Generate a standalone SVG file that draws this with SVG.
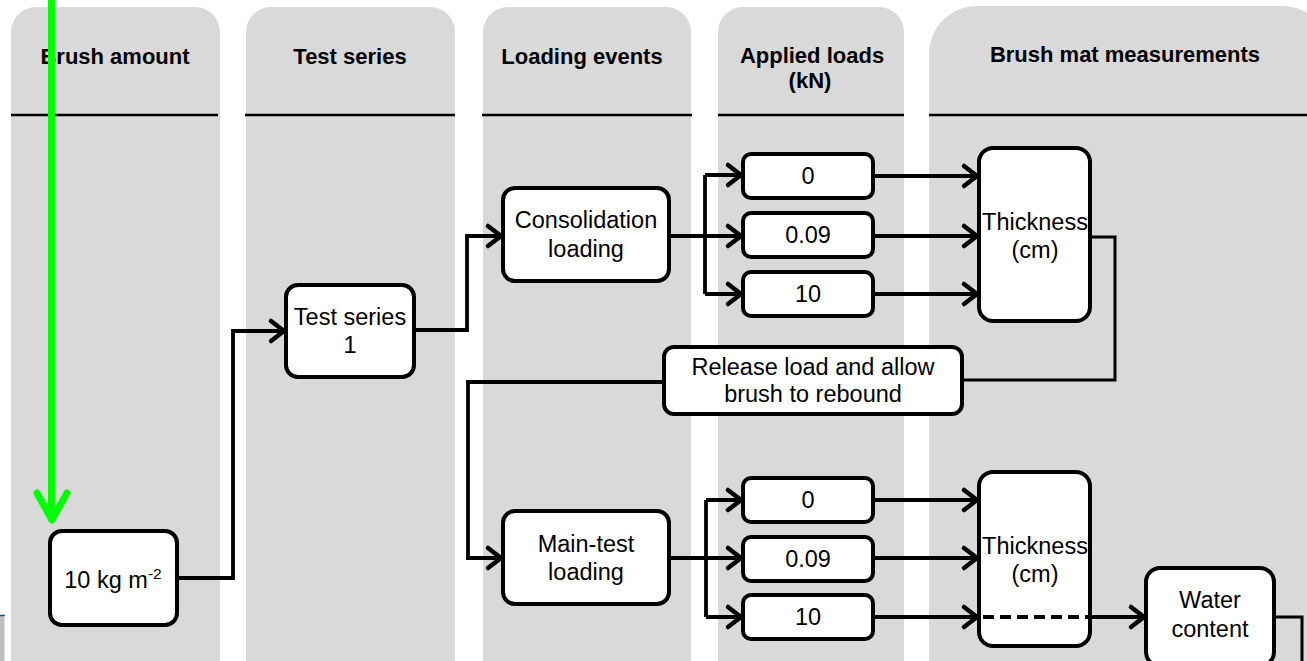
<svg xmlns="http://www.w3.org/2000/svg" width="1307" height="661" viewBox="0 0 1307 661">
  <defs>
    <marker id="arrow" markerUnits="userSpaceOnUse" markerWidth="24" markerHeight="28" refX="18" refY="14" orient="auto">
      <path d="M5,4 L18,14 L5,24" fill="none" stroke="#000" stroke-width="4.5" stroke-linecap="round" stroke-linejoin="miter"/>
    </marker>
    <style>
      .lane { fill: #d9d9d9; }
      .hline { stroke: #000; stroke-width: 2.5; }
      .head { font-family: "Liberation Sans", Arial, sans-serif; font-weight: bold; font-size: 22px; fill: #000; text-anchor: middle; }
      .box { fill: #fff; stroke: #000; stroke-width: 4; }
      .lbl { font-family: "Liberation Sans", Arial, sans-serif; font-size: 23.5px; fill: #000; text-anchor: middle; }
      .conn { fill: none; stroke: #000; stroke-width: 3.8; }
      .thin { fill: none; stroke: #000; stroke-width: 3; }
      .arr { marker-end: url(#arrow); }
    </style>
  </defs>

  <rect width="1307" height="661" fill="#fff"/>

  <!-- edge of a neighbouring panel -->
  <rect x="0" y="616" width="4.5" height="45" fill="#bfbfbf"/>
  <line x1="0" y1="615.5" x2="5" y2="615.5" stroke="#1f4e79" stroke-width="1.5"/>

  <!-- swim lanes -->
  <g id="lanes">
    <path class="lane" d="M11,661 V32 A25,25 0 0 1 36,7 H195 A25,25 0 0 1 220,32 V661 Z"/>
    <path class="lane" d="M246,661 V32 A25,25 0 0 1 271,7 H430 A25,25 0 0 1 455,32 V661 Z"/>
    <path class="lane" d="M483,661 V32 A25,25 0 0 1 508,7 H666 A25,25 0 0 1 691,32 V661 Z"/>
    <path class="lane" d="M718,661 V32 A25,25 0 0 1 743,7 H879 A25,25 0 0 1 904,32 V661 Z"/>
    <path class="lane" d="M929,661 V54 A48,48 0 0 1 977,6 H1282 A48,48 0 0 1 1330,54 V661 Z"/>
    <line class="hline" x1="11" y1="115" x2="218" y2="115"/>
    <line class="hline" x1="245" y1="115" x2="455" y2="115"/>
    <line class="hline" x1="482" y1="115" x2="692" y2="115"/>
    <line class="hline" x1="718" y1="115" x2="904" y2="115"/>
    <line class="hline" x1="929" y1="115" x2="1307" y2="115"/>
    <text class="head" x="115" y="64">Brush amount</text>
    <text class="head" x="350" y="64">Test series</text>
    <text class="head" x="582" y="64">Loading events</text>
    <text class="head" x="812" y="63">Applied loads</text>
    <text class="head" x="810" y="88">(kN)</text>
    <text class="head" x="1125" y="62">Brush mat measurements</text>
  </g>

  <!-- connectors -->
  <g id="connectors">
    <path class="conn arr" d="M177,578 H233 V331 H284"/>
    <path class="conn arr" d="M414,330 H467 V236 H501"/>

    <path class="conn arr" d="M669,236 H741"/>
    <path class="conn arr" d="M705,175 H741"/>
    <path class="conn arr" d="M705,294 H741"/>
    <path class="conn" d="M705,175 V294"/>

    <path class="conn arr" d="M873,176 H977"/>
    <path class="conn arr" d="M873,236 H977"/>
    <path class="conn arr" d="M873,294 H977"/>

    <path class="thin" d="M1089,237 H1115 V380 H962"/>
    <path class="conn arr" d="M664,382 H468 V558 H501"/>

    <path class="conn arr" d="M669,558 H741"/>
    <path class="conn arr" d="M706,500 H741"/>
    <path class="conn arr" d="M706,617 H741"/>
    <path class="conn" d="M706,500 V617"/>

    <path class="conn arr" d="M873,500 H977"/>
    <path class="conn arr" d="M873,558 H977"/>
    <path class="conn arr" d="M873,617 H977"/>

    <path class="conn arr" d="M1089,617 H1144"/>
    <path class="thin" d="M1275,617 H1302 V665"/>
  </g>

  <!-- nodes -->
  <g id="node-brush-amount">
    <rect class="box" x="50" y="531" width="127" height="94" rx="12"/>
    <text class="lbl" x="113" y="588">10 kg m<tspan font-size="15.5" dy="-9">-2</tspan></text>
  </g>
  <g id="node-test-series">
    <rect class="box" x="286" y="285" width="128" height="92" rx="12"/>
    <text class="lbl" x="350" y="325">Test series</text>
    <text class="lbl" x="350" y="353">1</text>
  </g>
  <g id="node-consolidation">
    <rect class="box" x="503" y="188" width="166" height="93" rx="12"/>
    <text class="lbl" x="586" y="228">Consolidation</text>
    <text class="lbl" x="586" y="257">loading</text>
  </g>
  <g id="node-load-0-a">
    <rect class="box" x="743" y="154" width="130" height="44" rx="8"/>
    <text class="lbl" x="808" y="184">0</text>
  </g>
  <g id="node-load-009-a">
    <rect class="box" x="743" y="213" width="130" height="44" rx="8"/>
    <text class="lbl" x="808" y="243">0.09</text>
  </g>
  <g id="node-load-10-a">
    <rect class="box" x="743" y="272" width="130" height="44" rx="8"/>
    <text class="lbl" x="808" y="302">10</text>
  </g>
  <g id="node-thickness-a">
    <rect class="box" x="979" y="148" width="111" height="173" rx="14"/>
    <text class="lbl" x="1035" y="230">Thickness</text>
    <text class="lbl" x="1035" y="258">(cm)</text>
  </g>
  <g id="node-release">
    <rect class="box" x="664" y="347" width="298" height="67" rx="10"/>
    <text class="lbl" x="813" y="375">Release load and allow</text>
    <text class="lbl" x="813" y="402">brush to rebound</text>
  </g>
  <g id="node-main-test">
    <rect class="box" x="503" y="511" width="166" height="93" rx="12"/>
    <text class="lbl" x="586" y="552">Main-test</text>
    <text class="lbl" x="586" y="580">loading</text>
  </g>
  <g id="node-load-0-b">
    <rect class="box" x="743" y="478" width="130" height="44" rx="8"/>
    <text class="lbl" x="808" y="508">0</text>
  </g>
  <g id="node-load-009-b">
    <rect class="box" x="743" y="537" width="130" height="44" rx="8"/>
    <text class="lbl" x="808" y="567">0.09</text>
  </g>
  <g id="node-load-10-b">
    <rect class="box" x="743" y="595" width="130" height="44" rx="8"/>
    <text class="lbl" x="808" y="625">10</text>
  </g>
  <g id="node-thickness-b">
    <rect class="box" x="979" y="472" width="111" height="174" rx="14"/>
    <text class="lbl" x="1035" y="554">Thickness</text>
    <text class="lbl" x="1035" y="582">(cm)</text>
    <!-- dashed pass-through of the 10 kN branch -->
    <path class="conn" d="M983,617 H1089" stroke-dasharray="11 6"/>
  </g>
  <g id="node-water-content">
    <rect class="box" x="1146" y="568" width="128" height="98" rx="14"/>
    <text class="lbl" x="1210" y="608">Water</text>
    <text class="lbl" x="1210" y="637">content</text>
  </g>

  <!-- highlight pointer -->
  <g id="pointer" fill="none" stroke="#00ff00" stroke-width="7" stroke-linecap="round" stroke-linejoin="round">
    <line x1="51.5" y1="-5" x2="51.5" y2="518" stroke-linecap="butt"/>
    <path d="M37,493 L52,520 L67,493"/>
  </g>
</svg>
